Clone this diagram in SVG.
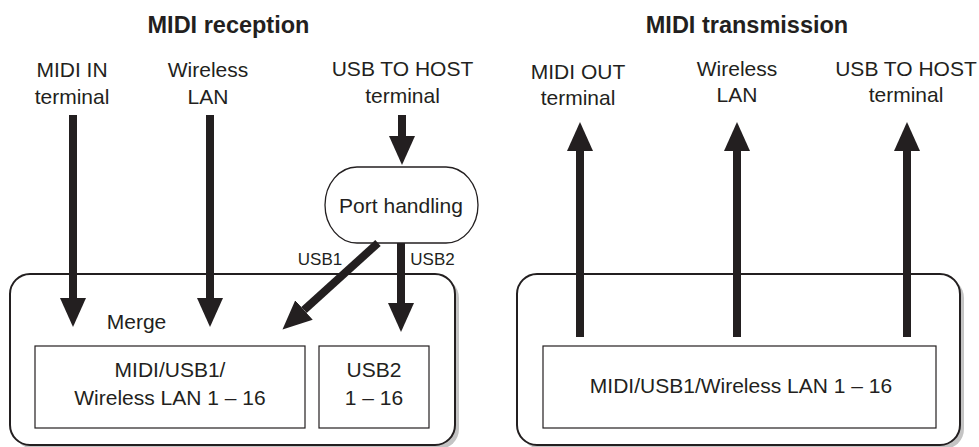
<svg xmlns="http://www.w3.org/2000/svg" width="979" height="447" viewBox="0 0 979 447">
<defs>
<style>
text{font-family:"Liberation Sans",Arial,Helvetica,sans-serif;fill:#231f20;text-anchor:middle}
.title{font-weight:bold;font-size:23.5px}
.lbl{font-size:21px}
.sm{font-size:17px}
.outer{fill:#fff;stroke:#231f20;stroke-width:2}
.shadow{fill:#c4c4c4}
.inner{fill:#fff;stroke:#231f20;stroke-width:1.2}
.arrow{stroke:#231f20;stroke-width:8;fill:none;marker-end:url(#ah)}
</style>
<marker id="ah" markerUnits="userSpaceOnUse" markerWidth="30" markerHeight="28" refX="0" refY="13" orient="auto" viewBox="0 0 30 26">
<path d="M0,0 L29,13 L0,26 z" fill="#231f20"/>
</marker>
</defs>
<rect width="979" height="447" fill="#fff"/>
<text class="title" x="228.5" y="33">MIDI reception</text>
<text class="title" x="747" y="33">MIDI transmission</text>

<g id="src-midi-in"><text class="lbl" x="72" y="77">MIDI IN</text><text class="lbl" x="72" y="104">terminal</text></g>
<g id="src-wlan"><text class="lbl" x="208" y="77">Wireless</text><text class="lbl" x="208" y="104">LAN</text></g>
<g id="src-usb"><text class="lbl" x="402.5" y="76">USB TO HOST</text><text class="lbl" x="402.5" y="103">terminal</text></g>

<g id="dst-midi-out"><text class="lbl" x="578" y="79">MIDI OUT</text><text class="lbl" x="578" y="105">terminal</text></g>
<g id="dst-wlan"><text class="lbl" x="737" y="76">Wireless</text><text class="lbl" x="737" y="102">LAN</text></g>
<g id="dst-usb"><text class="lbl" x="906" y="76">USB TO HOST</text><text class="lbl" x="906" y="102">terminal</text></g>

<g id="port-handling">
<rect x="325" y="167" width="153" height="76" rx="32" ry="38" fill="#fff" stroke="#231f20" stroke-width="1.3"/>
<text class="lbl" x="401" y="213">Port handling</text>
</g>

<g id="reception-box">
<rect class="shadow" x="14" y="278" width="445" height="171" rx="20"/>
<rect class="outer" x="10" y="274" width="445" height="171" rx="20"/>
<text class="lbl" x="136.5" y="329">Merge</text>
</g>
<g id="rx-merge">
<rect class="inner" x="35" y="346" width="270" height="82"/>
<text class="lbl" x="170" y="377">MIDI/USB1/</text>
<text class="lbl" x="170" y="405">Wireless LAN 1 – 16</text>
</g>
<g id="rx-usb2">
<rect class="inner" x="319" y="346" width="110" height="82"/>
<text class="lbl" x="374" y="377">USB2</text>
<text class="lbl" x="374" y="405">1 – 16</text>
</g>

<g id="transmission-box">
<rect class="shadow" x="521" y="278" width="443" height="171" rx="20"/>
<rect class="outer" x="517" y="274" width="443" height="171" rx="20"/>
</g>
<g id="tx-channels">
<rect class="inner" x="543" y="346" width="393" height="82"/>
<text class="lbl" x="741" y="393">MIDI/USB1/Wireless LAN 1 – 16</text>
</g>

<g id="connectors">
<line class="arrow" x1="73" y1="115" x2="73" y2="298"/>
<line class="arrow" x1="210" y1="115" x2="210" y2="298"/>
<line class="arrow" x1="402" y1="115" x2="402" y2="136"/>
<line class="arrow" x1="401" y1="243" x2="401" y2="303"/>
<line class="arrow" x1="378" y1="243" x2="304" y2="310"/>
<line class="arrow" x1="580" y1="337" x2="580" y2="151"/>
<line class="arrow" x1="737" y1="337" x2="737" y2="151"/>
<line class="arrow" x1="907" y1="337" x2="907" y2="151"/>
<text class="sm" x="320" y="265">USB1</text>
<text class="sm" x="432.5" y="265">USB2</text>
</g>
</svg>
